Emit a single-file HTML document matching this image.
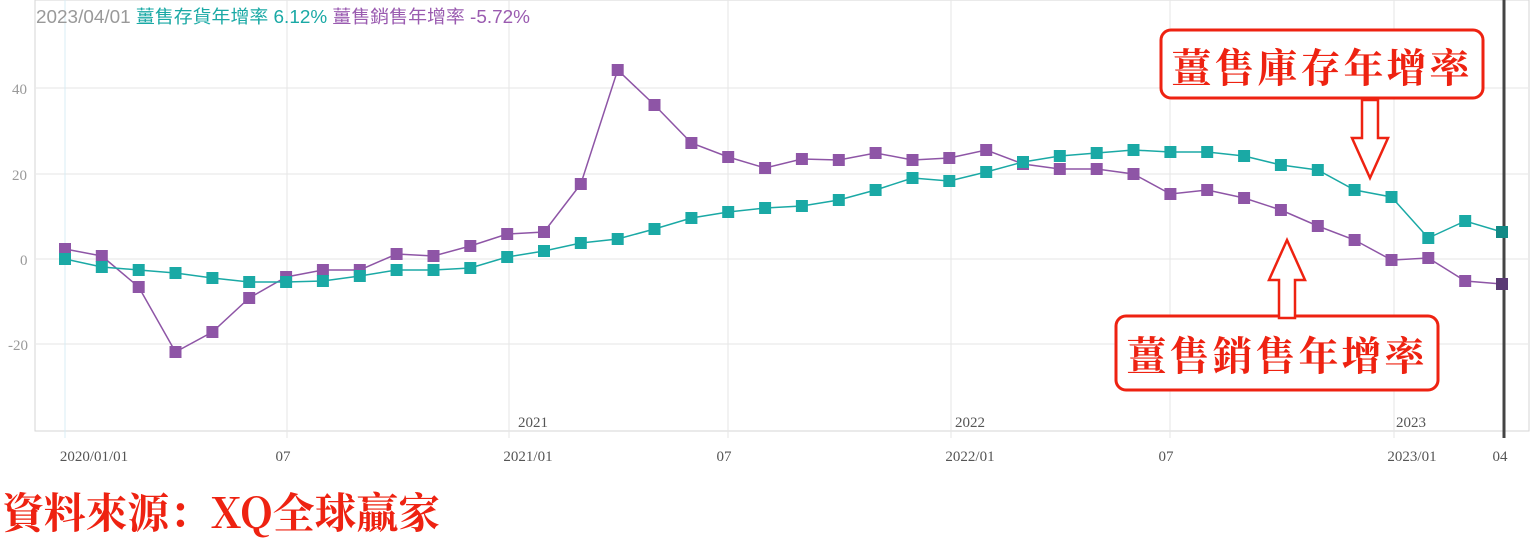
<!DOCTYPE html>
<html><head><meta charset="utf-8"><style>
html,body{margin:0;padding:0;background:#fff;width:1536px;height:553px;overflow:hidden}
svg{display:block}
</style></head><body>
<svg id="s" width="1536" height="553" xmlns="http://www.w3.org/2000/svg" font-family="Liberation Sans, 'Noto Sans CJK TC', sans-serif">
<rect x="35" y="0" width="1494" height="431" fill="#fff" stroke="#d6d6d6"/>
<g stroke="#e6e6e6">
<line x1="36" y1="88" x2="1528" y2="88"/><line x1="36" y1="174" x2="1528" y2="174"/>
<line x1="36" y1="259" x2="1528" y2="259"/><line x1="36" y1="344" x2="1528" y2="344"/>
<line x1="287" y1="0" x2="287" y2="438"/><line x1="509" y1="0" x2="509" y2="438"/>
<line x1="728" y1="0" x2="728" y2="438"/><line x1="951" y1="0" x2="951" y2="438"/>
<line x1="1170" y1="0" x2="1170" y2="438"/><line x1="1394" y1="0" x2="1394" y2="438"/>
</g>
<line x1="65" y1="0" x2="65" y2="438" stroke="#d8ecf4"/>
<line x1="1504" y1="0" x2="1504" y2="438" stroke="#444" stroke-width="3"/>
<g font-family="Liberation Serif, serif" font-size="15" fill="#999">
<text x="12" y="94">40</text><text x="12" y="180">20</text><text x="20" y="265">0</text><text x="8" y="350">-20</text>
</g>
<g font-family="Liberation Serif, serif" font-size="15" fill="#555" text-anchor="middle">
<text x="533" y="427">2021</text><text x="970" y="427">2022</text><text x="1411" y="427">2023</text>
<text x="94" y="461">2020/01/01</text><text x="283" y="461">07</text><text x="528" y="461">2021/01</text>
<text x="724" y="461">07</text><text x="970" y="461">2022/01</text><text x="1166" y="461">07</text>
<text x="1412" y="461">2023/01</text><text x="1500" y="461">04</text>
</g>
<text x="36" y="23" font-size="18" fill="#999" textLength="494" lengthAdjust="spacingAndGlyphs">2023/04/01 <tspan fill="#1aa9a5"> 薑售存貨年增率 6.12%</tspan><tspan fill="#9a5bb0"> 薑售銷售年增率 -5.72%</tspan></text>
<g id="d"></g>
<rect x="1161" y="30" width="322" height="68" rx="10" fill="#fff" stroke="#e21" stroke-width="3"/>
<text x="1322" y="82" font-family="'Noto Serif CJK SC', serif" font-weight="bold" font-size="40" fill="#e21" text-anchor="middle" letter-spacing="3">薑售庫存年增率</text>
<rect x="1116" y="316" width="322" height="74" rx="10" fill="#fff" stroke="#e21" stroke-width="3"/>
<text x="1277" y="370" font-family="'Noto Serif CJK SC', serif" font-weight="bold" font-size="40" fill="#e21" text-anchor="middle" letter-spacing="3">薑售銷售年增率</text>
<path d="M1362 100 h16 v38 h10 l-18 40 l-18 -40 h10 z" fill="#fff" stroke="#e21" stroke-width="2.5"/>
<path d="M1287 240 l18 40 h-10 v38 h-16 v-38 h-10 z" fill="#fff" stroke="#e21" stroke-width="2.5"/>
<text x="2" y="528" font-family="'Noto Serif CJK SC', serif" font-weight="bold" font-size="42" fill="#e21" textLength="438" lengthAdjust="spacingAndGlyphs">資料來源：XQ全球贏家</text>
</svg>
<script>
var t=[259,267,270,273,278,282,282,281,276,270,270,268,257,251,243,239,229,218,212,208,206,200,190,178,181,172,162,156,153,150,152,152,156,165,170,190,197,238,221,232];
var p=[249,256,287,352,332,298,277,270,270,254,256,246,234,232,184,70,105,143,157,168,159,160,153,160,158,150,164,169,169,174,194,190,198,210,226,240,260,258,281,284];
var g=document.getElementById('d'),h='';
function x(i){return 65+i*(1502-65)/39}
function ser(a,c,mc){var pts=a.map(function(y,i){return x(i).toFixed(1)+','+y}).join(' ');
h+='<polyline points="'+pts+'" fill="none" stroke="'+c+'" stroke-width="1.5"/>';
a.forEach(function(y,i){h+='<rect x="'+(x(i)-6).toFixed(1)+'" y="'+(y-6)+'" width="12" height="12" fill="'+(i==39?mc:c)+'"/>'});}
ser(p,'#8e55a6','#5b3a75');ser(t,'#1aa9a5','#138a86');
g.innerHTML=h;
</script>
</body></html>
